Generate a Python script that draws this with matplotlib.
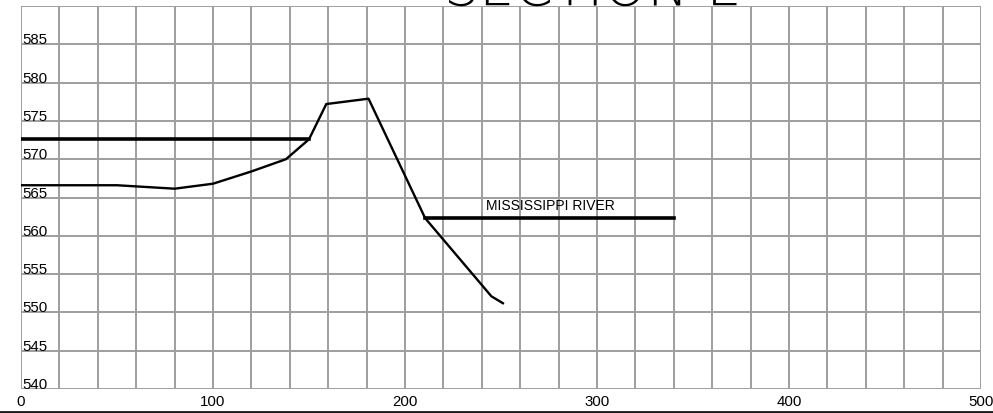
import matplotlib
matplotlib.use("Agg")
import matplotlib.pyplot as plt
from matplotlib.lines import Line2D

# ---- data ----
ground_x = [0, 50, 80, 100, 120, 138, 150, 159, 181, 210.5, 245, 251]
ground_y = [566.6, 566.6, 566.15, 566.8, 568.4, 570.0, 572.6, 577.2, 577.9, 562.3, 552.1, 551.2]
levee_x = [0, 150]
levee_y = [572.6, 572.6]
river_x = [210.5, 340]
river_y = [562.3, 562.3]
river_label = "MISSISSIPPI RIVER"
label_pos = (242, 563.4)
title = "SECTION E"
x_ticks = [0, 100, 200, 300, 400, 500]
y_ticks = [540, 545, 550, 555, 560, 565, 570, 575, 580, 585]
x_grid = list(range(0, 501, 20))
y_grid = list(range(540, 591, 5))

W, H = 993, 413
fig = plt.figure(figsize=(W / 100, H / 100), dpi=100)
ax = fig.add_axes([21 / W, (H - 389) / H, 960 / W, 383 / H])
ax.set_xlim(0, 500)
ax.set_ylim(540, 590)

gc = "#9e9e9e"
for gx in x_grid:
    ax.axvline(gx, color=gc, lw=1.4, zorder=1)
for gy in y_grid:
    ax.axhline(gy, color=gc, lw=1.4, zorder=1)
for s in ax.spines.values():
    s.set_visible(False)

ax.plot(ground_x, ground_y, color="black", lw=1.7, zorder=3, solid_joinstyle="round")
ax.plot(levee_x, levee_y, color="black", lw=2.6, zorder=3)
ax.plot(river_x, river_y, color="black", lw=2.6, zorder=3)
ax.text(label_pos[0], label_pos[1], river_label, fontsize=10, family="Liberation Sans",
        ha="left", va="baseline", zorder=4)

ax.set_xticks(x_ticks)
ax.set_xticklabels([str(v) for v in x_ticks], family="Liberation Sans", fontsize=10.8)
ax.set_yticks(y_ticks)
ax.set_yticklabels([str(v) for v in y_ticks], family="Liberation Sans", fontsize=10.8,
                   ha="left", va="baseline")
ax.tick_params(axis="x", length=0, pad=4)
ax.tick_params(axis="y", length=0, pad=-1)

fig.text(593 / W, 1 - 5 / H, title, fontsize=40, family="DejaVu Sans", fontweight="ultralight",
         ha="center", va="baseline")

fig.add_artist(Line2D([0, 1], [1.2 / H, 1.2 / H], transform=fig.transFigure,
                      color="#1a1a1a", lw=2.0))

fig.savefig("out.png", dpi=100)
